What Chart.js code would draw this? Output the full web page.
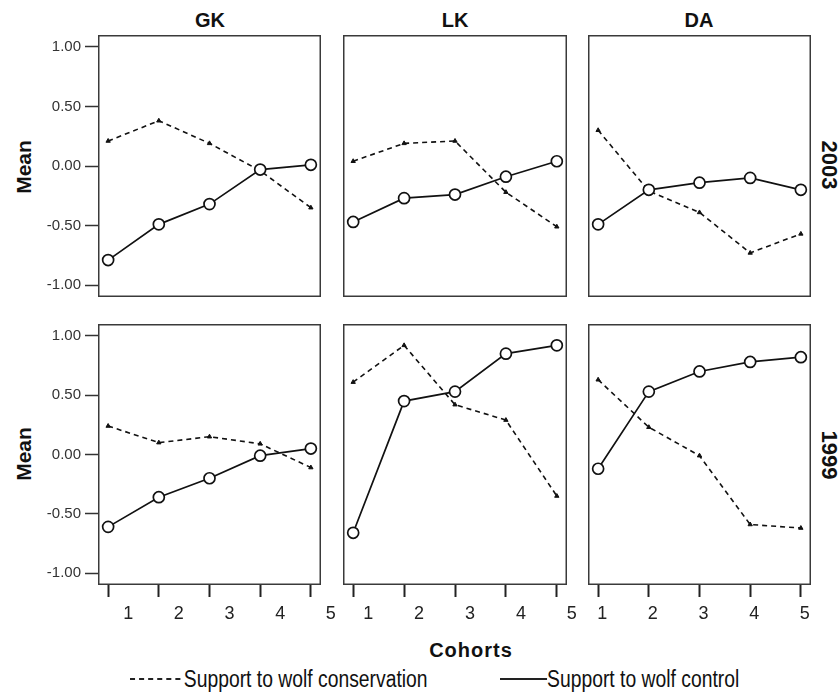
<!DOCTYPE html>
<html>
<head>
<meta charset="utf-8">
<script src="https://cdn.jsdelivr.net/npm/chart.js@4"></script>
<style>
  body { margin: 0; background: #fff; }
  #wrap { position: relative; width: 840px; height: 697px; overflow: hidden; font-family: "Liberation Sans", Arial, sans-serif; color: #111; }
  #wrap canvas { position: absolute; }
  .lbl { position: absolute; white-space: nowrap; transform: translate(-50%, -50%); }
  .title { font-weight: bold; font-size: 20px; }
  .mean { font-weight: bold; font-size: 21px; transform: translate(-50%, -50%) rotate(-90deg); }
  .year { font-weight: bold; font-size: 22px; transform: translate(-50%, -50%) rotate(90deg); }
  .legend { position: absolute; top: 666px; font-size: 23px; white-space: nowrap; transform: scaleX(0.84); transform-origin: 0 50%; }
  .swatch { display: inline-block; vertical-align: middle; position: relative; top: -2px; }
</style>
</head>
<body>
<div id="wrap">
  <div class="lbl title" style="left:210px; top:20px;">GK</div>
  <div class="lbl title" style="left:455px; top:20px;">LK</div>
  <div class="lbl title" style="left:699px; top:20px;">DA</div>
  <div class="lbl mean" style="left:24px; top:167px;">Mean</div>
  <div class="lbl mean" style="left:24px; top:454px;">Mean</div>
  <div class="lbl year" style="left:829px; top:165px;">2003</div>
  <div class="lbl year" style="left:829px; top:455px;">1999</div>
  <div class="lbl title" style="left:471px; top:650px; letter-spacing:1px;">Cohorts</div>
  <div class="legend" style="left:130px;"><span class="swatch" style="width:60px; margin-right:4px; border-top:2px dashed #222;"></span>Support to wolf conservation</div>
  <div class="legend" style="left:500px;"><span class="swatch" style="width:56px; border-top:2px solid #222;"></span>Support to wolf control</div>
</div>
<script>
const cohorts = [1, 2, 3, 4, 5];
const regions = ['GK', 'LK', 'DA'];
const years = ['2003', '1999'];
const yTicks = [-1, -0.5, 0, 0.5, 1];

// 2003
const conservationGK2003 = [0.21, 0.38, 0.19, -0.04, -0.35];
const conservationLK2003 = [0.04, 0.19, 0.21, -0.22, -0.51];
const conservationDA2003 = [0.30, -0.21, -0.39, -0.73, -0.57];
const controlGK2003 = [-0.79, -0.49, -0.32, -0.03, 0.01];
const controlLK2003 = [-0.47, -0.27, -0.24, -0.09, 0.04];
const controlDA2003 = [-0.49, -0.20, -0.14, -0.10, -0.20];

// 1999
const conservationGK1999 = [0.24, 0.10, 0.15, 0.09, -0.11];
const conservationLK1999 = [0.61, 0.92, 0.42, 0.29, -0.35];
const conservationDA1999 = [0.63, 0.23, -0.01, -0.59, -0.62];
const controlGK1999 = [-0.61, -0.36, -0.20, -0.01, 0.05];
const controlLK1999 = [-0.66, 0.45, 0.53, 0.85, 0.92];
const controlDA1999 = [-0.12, 0.53, 0.70, 0.78, 0.82];

const conservation = {
    '2003': [conservationGK2003, conservationLK2003, conservationDA2003],
    '1999': [conservationGK1999, conservationLK1999, conservationDA1999]
};
const control = {
    '2003': [controlGK2003, controlLK2003, controlDA2003],
    '1999': [controlGK1999, controlLK1999, controlDA1999]
};

/* panel placement */
const colX = [98, 343, 588];
const colW = [223, 224, 223];
const rowY = [35, 324];
const rowH = [262, 261];
const leftMargin = 70;
const bottomMargin = 45;
const rightRoom = 25;
const labelShift = [20, 15, 4];

const plain = '"Liberation Sans", Arial, sans-serif';

const framePlugin = {
    id: 'frame',
    afterDraw(chart) {
        const a = chart.chartArea;
        const ctx = chart.ctx;
        ctx.save();
        ctx.strokeStyle = '#3a3a3a';
        ctx.lineWidth = 1.5;
        ctx.strokeRect(a.left + 0.75, a.top + 0.75, a.right - a.left - 1.5, a.bottom - a.top - 1.5);
        ctx.restore();
    }
};

const wrap = document.getElementById('wrap');

years.forEach((year, r) => {
    regions.forEach((region, c) => {
        const isLeft = c === 0;
        const isBottom = r === 1;
        const w = colW[c] + (isLeft ? leftMargin : 0) + rightRoom;
        const h = rowH[r] + (isBottom ? bottomMargin : 0);

        const canvas = document.createElement('canvas');
        canvas.width = w;
        canvas.height = h;
        canvas.style.left = (colX[c] - (isLeft ? leftMargin : 0)) + 'px';
        canvas.style.top = rowY[r] + 'px';
        wrap.appendChild(canvas);

        const toPoints = vals => cohorts.map((x, i) => ({ x: x, y: vals[i] }));

        new Chart(canvas.getContext('2d'), {
            type: 'line',
            data: {
                datasets: [{
                    label: 'Support to wolf control',
                    data: toPoints(control[year][c]),
                    borderColor: '#111',
                    borderWidth: 1.7,
                    pointStyle: 'circle',
                    pointRadius: 5.5,
                    pointBorderWidth: 1.7,
                    pointBorderColor: '#111',
                    pointBackgroundColor: '#fff',
                    tension: 0
                }, {
                    label: 'Support to wolf conservation',
                    data: toPoints(conservation[year][c]),
                    borderColor: '#111',
                    borderWidth: 1.6,
                    borderDash: [5, 4],
                    pointStyle: 'triangle',
                    pointRadius: 2.5,
                    pointBorderWidth: 1,
                    pointBorderColor: '#111',
                    pointBackgroundColor: '#111',
                    tension: 0
                }]
            },
            options: {
                responsive: false,
                animation: false,
                devicePixelRatio: 1,
                layout: { autoPadding: false, padding: { right: rightRoom } },
                plugins: { legend: { display: false }, tooltip: { enabled: false } },
                scales: {
                    x: {
                        type: 'linear',
                        min: 0.8,
                        max: 5.2,
                        display: isBottom,
                        afterBuildTicks: s => { s.ticks = cohorts.map(v => ({ value: v })); },
                        afterFit: s => {
                            if (isBottom) s.height = bottomMargin;
                            s.paddingLeft = 0;
                            s.paddingRight = 0;
                        },
                        border: { display: false },
                        grid: { drawOnChartArea: false, drawTicks: true, tickLength: 12, tickColor: '#222', tickWidth: 2 },
                        ticks: {
                            autoSkip: false,
                            maxRotation: 0,
                            padding: 6,
                            labelOffset: labelShift[c],
                            color: '#222',
                            font: { family: plain, size: 18 },
                            callback: v => String(v)
                        }
                    },
                    y: {
                        min: -1.1,
                        max: 1.1,
                        display: isLeft,
                        afterBuildTicks: s => { s.ticks = yTicks.map(v => ({ value: v })); },
                        afterFit: s => {
                            if (isLeft) s.width = leftMargin;
                            s.paddingTop = 0;
                            s.paddingBottom = 0;
                        },
                        border: { display: false },
                        grid: { drawOnChartArea: false, drawTicks: true, tickLength: 13, tickColor: '#333', tickWidth: 1.5 },
                        ticks: {
                            padding: 4,
                            color: '#333',
                            font: { family: plain, size: 15 },
                            callback: v => v.toFixed(2)
                        }
                    }
                }
            },
            plugins: [framePlugin]
        });
    });
});
</script>
</body>
</html>
